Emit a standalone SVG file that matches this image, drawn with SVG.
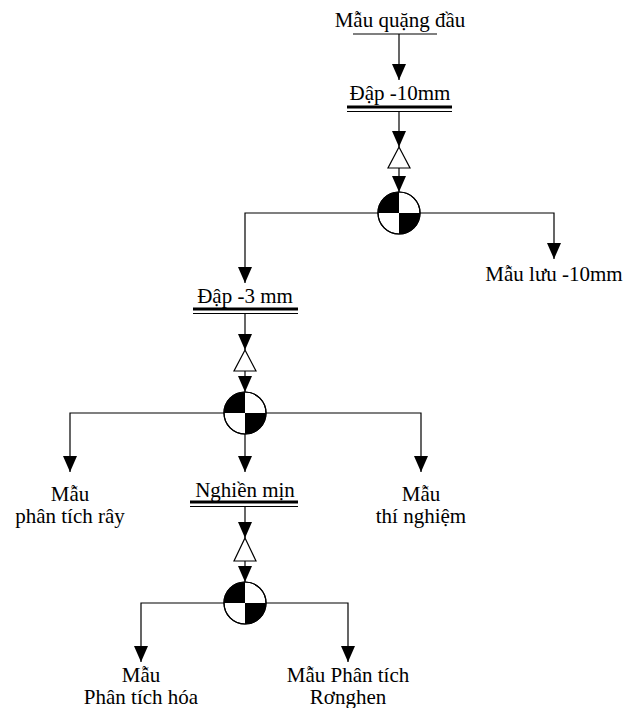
<svg xmlns="http://www.w3.org/2000/svg" width="640" height="708" viewBox="0 0 640 708">
<style>
text{font-family:"Liberation Serif","Times New Roman",serif;font-size:21px;fill:#000;text-anchor:middle}
.ln{stroke:#000;stroke-width:1.2;fill:none}
.thick{stroke:#000;stroke-width:3}
.thin{stroke:#000;stroke-width:1.2}
.hollow{fill:#fff;stroke:#000;stroke-width:1.2}
.circ{fill:#fff;stroke:#000;stroke-width:1.2}
</style>
<defs>
<marker id="ah" viewBox="0 0 16 14" refX="16" refY="7" markerWidth="16" markerHeight="14" markerUnits="userSpaceOnUse" orient="auto">
<path d="M0,0 L16,7 L0,14 z" fill="#000"/>
</marker>
<g id="splitter">
<circle cx="0" cy="0" r="21" class="circ"/>
<path d="M0,0 L-21,0 A21,21 0 0 1 0,-21 z" fill="#000"/>
<path d="M0,0 L21,0 A21,21 0 0 1 0,21 z" fill="#000"/>
<circle cx="0" cy="0" r="21" fill="none" stroke="#000" stroke-width="1.2"/>
</g>
</defs>

<g id="connectors">
<line class="ln" x1="399" y1="34" x2="399" y2="80" marker-end="url(#ah)"/>
<line class="ln" x1="399" y1="112" x2="399" y2="147" marker-end="url(#ah)"/>
<line class="ln" x1="399" y1="168" x2="399" y2="192" marker-end="url(#ah)"/>
<polyline class="ln" points="378,213 245,213 245,283" marker-end="url(#ah)"/>
<polyline class="ln" points="420,213 554,213 554,259" marker-end="url(#ah)"/>

<line class="ln" x1="245" y1="313" x2="245" y2="350" marker-end="url(#ah)"/>
<line class="ln" x1="245" y1="371" x2="245" y2="392" marker-end="url(#ah)"/>
<polyline class="ln" points="224,413 70,413 70,472" marker-end="url(#ah)"/>
<polyline class="ln" points="266,413 421,413 421,472" marker-end="url(#ah)"/>
<line class="ln" x1="245" y1="434" x2="245" y2="472" marker-end="url(#ah)"/>

<line class="ln" x1="245" y1="506" x2="245" y2="538" marker-end="url(#ah)"/>
<line class="ln" x1="245" y1="561" x2="245" y2="582" marker-end="url(#ah)"/>
<polyline class="ln" points="224,603 141,603 141,662" marker-end="url(#ah)"/>
<polyline class="ln" points="266,603 348,603 348,662" marker-end="url(#ah)"/>
</g>

<g id="node-mau-quang-dau">
<text x="400" y="27">Mẫu quặng đầu</text>
<line class="thin" x1="353" y1="34" x2="437" y2="34"/>
</g>

<g id="node-dap-10mm">
<text x="400" y="100">Đập -10mm</text>
<line class="thick" x1="347" y1="107" x2="452" y2="107"/>
<line class="thin" x1="347" y1="111.5" x2="452" y2="111.5"/>
</g>

<g id="sampler-1">
<polygon class="hollow" points="399,147 410,168 388,168"/>
</g>
<g id="splitter-1"><use href="#splitter" x="399" y="213"/></g>

<g id="node-mau-luu">
<text x="554" y="281">Mẫu lưu -10mm</text>
</g>

<g id="node-dap-3mm">
<text x="245" y="303">Đập -3 mm</text>
<line class="thick" x1="193" y1="309" x2="298" y2="309"/>
<line class="thin" x1="193" y1="313.5" x2="298" y2="313.5"/>
</g>

<g id="sampler-2">
<polygon class="hollow" points="245,350 256,371 234,371"/>
</g>
<g id="splitter-2"><use href="#splitter" x="245" y="413"/></g>

<g id="node-mau-ray">
<text x="70" y="501">Mẫu</text>
<text x="70" y="523">phân tích rây</text>
</g>

<g id="node-mau-thi-nghiem">
<text x="421" y="501">Mẫu</text>
<text x="421" y="523">thí nghiệm</text>
</g>

<g id="node-nghien-min">
<text x="245" y="497">Nghiền mịn</text>
<line class="thick" x1="190" y1="502" x2="298" y2="502"/>
<line class="thin" x1="190" y1="506.5" x2="298" y2="506.5"/>
</g>

<g id="sampler-3">
<polygon class="hollow" points="245,538 256,561 234,561"/>
</g>
<g id="splitter-3"><use href="#splitter" x="245" y="603"/></g>

<g id="node-mau-hoa">
<text x="141" y="682">Mẫu</text>
<text x="141" y="704">Phân tích hóa</text>
</g>

<g id="node-mau-ronghen">
<text x="348" y="682">Mẫu Phân tích</text>
<text x="348" y="704">Rơnghen</text>
</g>
</svg>
